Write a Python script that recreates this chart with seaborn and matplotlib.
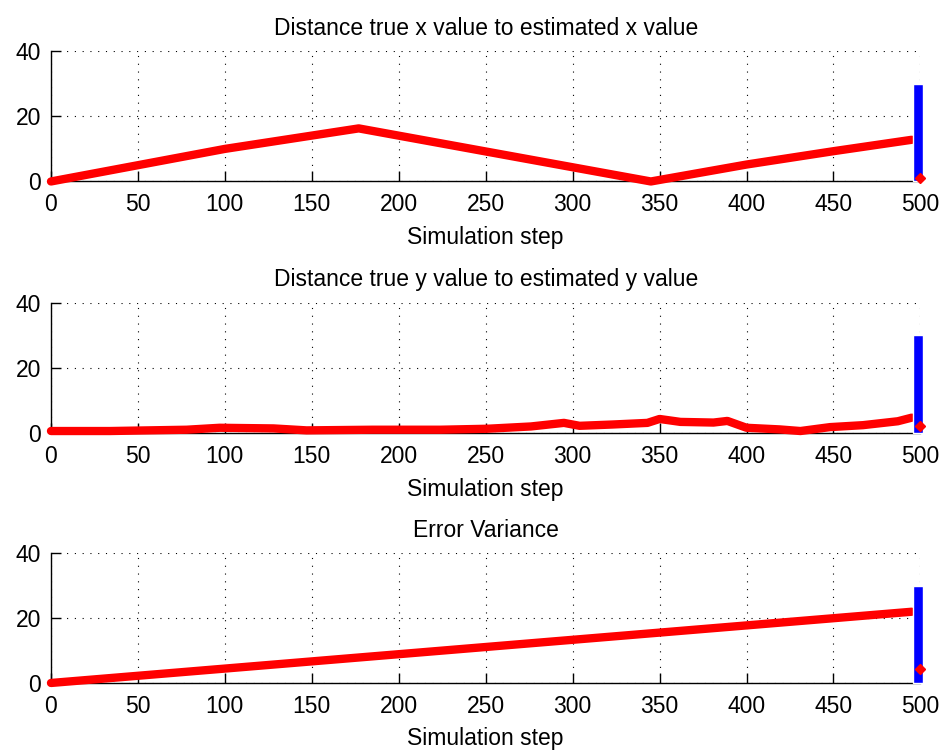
import numpy as np
import pandas as pd
import matplotlib
matplotlib.use("Agg")
import matplotlib.pyplot as plt
import seaborn as sns

sns.set_style("white")
plt.rcParams['font.family'] = ['Liberation Sans', 'DejaVu Sans']
plt.rcParams['text.color'] = 'black'
plt.rcParams['axes.labelcolor'] = 'black'

# data (breakpoints of the red error curves)
x_err_steps = [0, 50, 100, 177, 345, 400, 450, 495]
x_err_vals = [0, 5.0, 10.0, 16.3, 0, 5.2, 9.3, 12.8]

y_err_steps = [0, 34, 78, 97, 128, 147, 185, 224, 251, 276, 295, 304, 323, 343,
               350, 362, 381, 389, 400, 419, 431, 448, 467, 487, 495]
y_err_vals = [0.6, 0.6, 1.0, 1.6, 1.4, 0.8, 1.0, 1.0, 1.3, 2.0, 3.1, 2.2, 2.6, 3.1,
              4.3, 3.4, 3.2, 3.7, 1.6, 1.1, 0.6, 1.8, 2.4, 3.6, 4.7]

var_steps = [0, 495]
var_vals = [0, 22]

# blue bar and red marker at the last step
bar_step = 498.7
bar_height = [30, 30, 30]
end_marker = [1.0, 2.0, 4.4]

titles = ["Distance true x value to estimated x value",
          "Distance true y value to estimated y value",
          "Error Variance"]
series = [(x_err_steps, x_err_vals), (y_err_steps, y_err_vals), (var_steps, var_vals)]

fig = plt.figure(figsize=(9.44, 7.53), dpi=100)
boxes = [[0.054, 0.759, 0.921, 0.173],
         [0.054, 0.425, 0.921, 0.173],
         [0.054, 0.093, 0.921, 0.172]]

for i, box in enumerate(boxes):
    ax = fig.add_axes(box)
    xs, ys = series[i]
    df = pd.DataFrame({"step": xs, "err": ys})
    sns.lineplot(data=df, x="step", y="err", ax=ax, color="#ff0000",
                 linewidth=6, clip_on=False, zorder=3)
    ax.bar([bar_step], [bar_height[i]], width=5.6, color="#0000ff",
           clip_on=False, zorder=4)
    ax.plot([499.5], [end_marker[i]], marker="D", ms=5, color="#ff0000",
            clip_on=False, zorder=5)

    ax.set_xlim(0, 500)
    ax.set_ylim(0, 40)
    ax.set_xticks(np.arange(0, 501, 50))
    ax.set_yticks([0, 20, 40])
    ax.grid(True, color="black", linestyle=(0, (1, 6)), linewidth=0.8)
    ax.set_axisbelow(True)
    for s in ["top", "right"]:
        ax.spines[s].set_visible(False)
    for s in ["left", "bottom"]:
        ax.spines[s].set_color("black")
        ax.spines[s].set_linewidth(1.0)
    ax.tick_params(axis="both", direction="in", length=7, width=1,
                   colors="black", labelsize=16.5, left=True, bottom=True)
    ax.tick_params(axis="x", pad=8.5)
    ax.tick_params(axis="y", pad=7)
    ax.set_xlabel("Simulation step", fontsize=16.5, labelpad=7)
    ax.set_ylabel("")
    ax.set_title(titles[i], fontsize=16.5, pad=12)

fig.savefig("out.png", dpi=100)
